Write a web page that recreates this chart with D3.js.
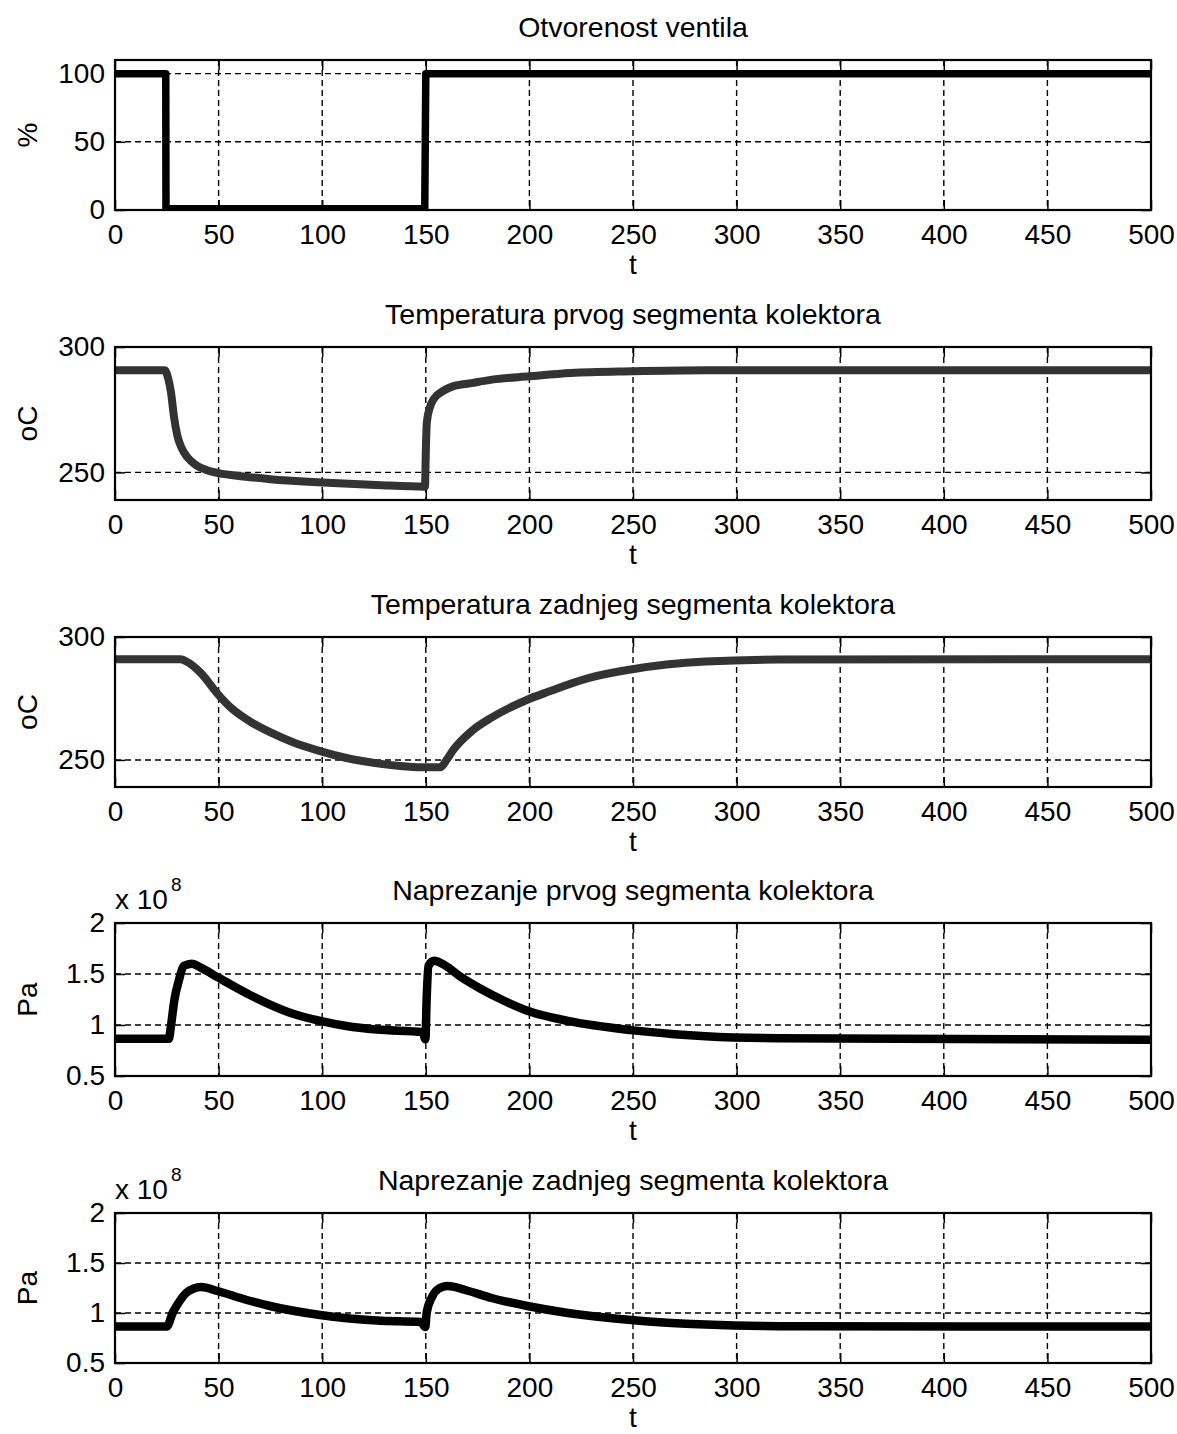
<!DOCTYPE html>
<html>
<head>
<meta charset="utf-8">
<script src="https://cdn.jsdelivr.net/npm/d3@7"></script>
<style>
  html, body { margin: 0; padding: 0; background: #fff; }
  svg { display: block; }
  text { font-family: "Liberation Sans", Arial, Helvetica, sans-serif; fill: #000; }
</style>
</head>
<body>
<svg id="chart" width="1177" height="1434"></svg>
<script>
// ---------- data ----------
const xTicks = [0, 50, 100, 150, 200, 250, 300, 350, 400, 450, 500];

const titles = [
  "Otvorenost ventila",
  "Temperatura prvog segmenta kolektora",
  "Temperatura zadnjeg segmenta kolektora",
  "Naprezanje prvog segmenta kolektora",
  "Naprezanje zadnjeg segmenta kolektora"
];
const yLabels = ["%", "oC", "oC", "Pa", "Pa"];

const valveT = [0, 24.5, 24.6, 149.5, 150, 500];
const valveV = [100, 100, 1, 1, 100, 100];

const temp1T = [0, 24, 25.5, 27, 28.5, 30, 32, 35, 39, 44, 50, 62, 75, 100, 126, 149.6, 150, 150.5, 152, 154, 158, 163, 172, 182, 200, 220, 250, 285, 500];
const temp1V = [290.7, 290.7, 288, 282, 272, 265, 260, 256, 253, 251, 249.7, 248.4, 247.3, 246, 245, 244.3, 258, 270, 276, 279.5, 282.3, 284.3, 285.6, 287, 288.3, 289.6, 290.3, 290.7, 290.7];

const temp2T = [0, 31.5, 36, 41.6, 49.4, 56.4, 65.6, 74.8, 85.9, 99, 111.7, 126.4, 137.5, 148, 157, 160, 163, 172.5, 181.7, 199, 209, 228, 249, 285, 320, 500];
const temp2V = [291, 291, 289.3, 285.2, 277, 270.9, 265.4, 261.3, 257.2, 253.6, 250.8, 248.6, 247.5, 247, 247, 250, 253.8, 262, 267.2, 274.5, 277.7, 283.2, 286.8, 290, 290.8, 291];

const stress1T = [0, 26, 27, 28.7, 30.6, 33.4, 37, 41.6, 49.4, 56.4, 65.6, 74.8, 85.9, 99, 111.7, 126.4, 148.5, 149.8, 150.4, 151.3, 154, 159.6, 167, 176, 187.5, 199, 218.6, 249, 270, 285, 320, 500];
const stress1V = [0.865, 0.865, 0.99, 1.25, 1.42, 1.58, 1.6, 1.56, 1.47, 1.39, 1.29, 1.2, 1.11, 1.04, 0.99, 0.955, 0.93, 0.86, 1.25, 1.58, 1.63, 1.58, 1.47, 1.36, 1.24, 1.14, 1.04, 0.95, 0.91, 0.89, 0.87, 0.855];

const stress2T = [0, 25, 27.8, 30.6, 34.3, 38, 41.6, 49.4, 62, 74.8, 99, 126.4, 147.6, 149.8, 150.4, 153, 156, 160.6, 169, 181.7, 199, 218.6, 249, 285, 330, 500];
const stress2V = [0.865, 0.865, 1.0, 1.1, 1.2, 1.245, 1.26, 1.22, 1.14, 1.07, 0.98, 0.925, 0.91, 0.86, 1.0, 1.16, 1.24, 1.27, 1.23, 1.15, 1.07, 1.0, 0.93, 0.885, 0.868, 0.865];

const yTicksValve = [0, 50, 100];
const yTicksTemp = [250, 300];
const yTicksStress = [0.5, 1, 1.5, 2];

const yDomains = [[0, 110], [239, 300], [239, 300], [0.5, 2], [0.5, 2]];

// ---------- layout ----------
const svg = d3.select("#chart");
const left = 115, right = 1151;
const tops = [60, 347, 637, 923, 1213];
const bottoms = [210, 500, 787, 1076, 1363];
const FS = 28;
const FT = 28.5;

const panels = [
  { t: valveT, v: valveV, ticks: yTicksValve, color: "#000", width: 7.5, curve: d3.curveLinear, exp: false },
  { t: temp1T, v: temp1V, ticks: yTicksTemp, color: "#333", width: 8, curve: d3.curveMonotoneX, exp: false },
  { t: temp2T, v: temp2V, ticks: yTicksTemp, color: "#333", width: 8, curve: d3.curveMonotoneX, exp: false },
  { t: stress1T, v: stress1V, ticks: yTicksStress, color: "#000", width: 8.5, curve: d3.curveMonotoneX, exp: true },
  { t: stress2T, v: stress2V, ticks: yTicksStress, color: "#000", width: 8.5, curve: d3.curveMonotoneX, exp: true }
];

panels.forEach((p, i) => {
  const top = tops[i], bottom = bottoms[i];
  const x = d3.scaleLinear().domain([0, 500]).range([left, right]);
  const y = d3.scaleLinear().domain(yDomains[i]).range([bottom, top]);
  const g = svg.append("g");

  const clipId = "clip" + i;
  svg.append("clipPath").attr("id", clipId)
    .append("rect").attr("x", left).attr("y", top)
    .attr("width", right - left).attr("height", bottom - top);

  // grid
  const grid = g.append("g").attr("stroke", "#000").attr("stroke-width", 1.4)
    .attr("stroke-dasharray", "6,4");
  xTicks.filter(d => d > 0 && d < 500).forEach(d => {
    grid.append("line").attr("x1", x(d)).attr("x2", x(d)).attr("y1", top).attr("y2", bottom);
  });
  p.ticks.filter(d => d > yDomains[i][0] && d < yDomains[i][1]).forEach(d => {
    grid.append("line").attr("x1", left).attr("x2", right).attr("y1", y(d)).attr("y2", y(d));
  });

  // data line
  const data = p.t.map((t, k) => [t, p.v[k]]);
  g.append("path").datum(data)
    .attr("clip-path", `url(#${clipId})`)
    .attr("fill", "none").attr("stroke", p.color).attr("stroke-width", p.width)
    .attr("stroke-linejoin", "round")
    .attr("d", d3.line().x(d => x(d[0])).y(d => y(d[1])).curve(p.curve));

  // axes
  const fmt = d => String(d);
  const ax = g.append("g").attr("transform", `translate(0,${bottom})`)
    .call(d3.axisBottom(x).tickValues(xTicks).tickSize(-10).tickPadding(14).tickFormat(fmt));
  const axT = g.append("g").attr("transform", `translate(0,${top})`)
    .call(d3.axisTop(x).tickValues(xTicks).tickSize(-10).tickFormat(""));
  const ay = g.append("g").attr("transform", `translate(${left},0)`)
    .call(d3.axisLeft(y).tickValues(p.ticks).tickSize(-10).tickPadding(10).tickFormat(fmt));
  const ayR = g.append("g").attr("transform", `translate(${right},0)`)
    .call(d3.axisRight(y).tickValues(p.ticks).tickSize(-10).tickFormat(""));
  [ax, axT, ay, ayR].forEach(a => {
    a.select(".domain").remove();
    a.selectAll(".tick line").attr("stroke", "#000").attr("stroke-width", 1.5);
    a.selectAll("text").attr("font-size", FS).attr("fill", "#000")
      .style("font-family", '"Liberation Sans", Arial, sans-serif');
  });

  // box
  g.append("rect").attr("x", left).attr("y", top)
    .attr("width", right - left).attr("height", bottom - top)
    .attr("fill", "none").attr("stroke", "#000").attr("stroke-width", 2.2);

  // title
  g.append("text").attr("x", (left + right) / 2).attr("y", top - 23)
    .attr("text-anchor", "middle").attr("font-size", FT).text(titles[i]);
  // x label
  g.append("text").attr("x", (left + right) / 2).attr("y", bottom + 64)
    .attr("text-anchor", "middle").attr("font-size", FS).text("t");
  // y label
  g.append("text")
    .attr("transform", `translate(37,${(top + bottom) / 2}) rotate(-90)`)
    .attr("text-anchor", "middle").attr("font-size", FS).text(yLabels[i]);
  // exponent
  if (p.exp) {
    const e = g.append("text").attr("x", left).attr("y", top - 14).attr("font-size", FS);
    e.append("tspan").text("x 10");
    e.append("tspan").attr("dx", 3).attr("dy", -18).attr("font-size", 19).text("8");
  }
});
</script>
</body>
</html>
